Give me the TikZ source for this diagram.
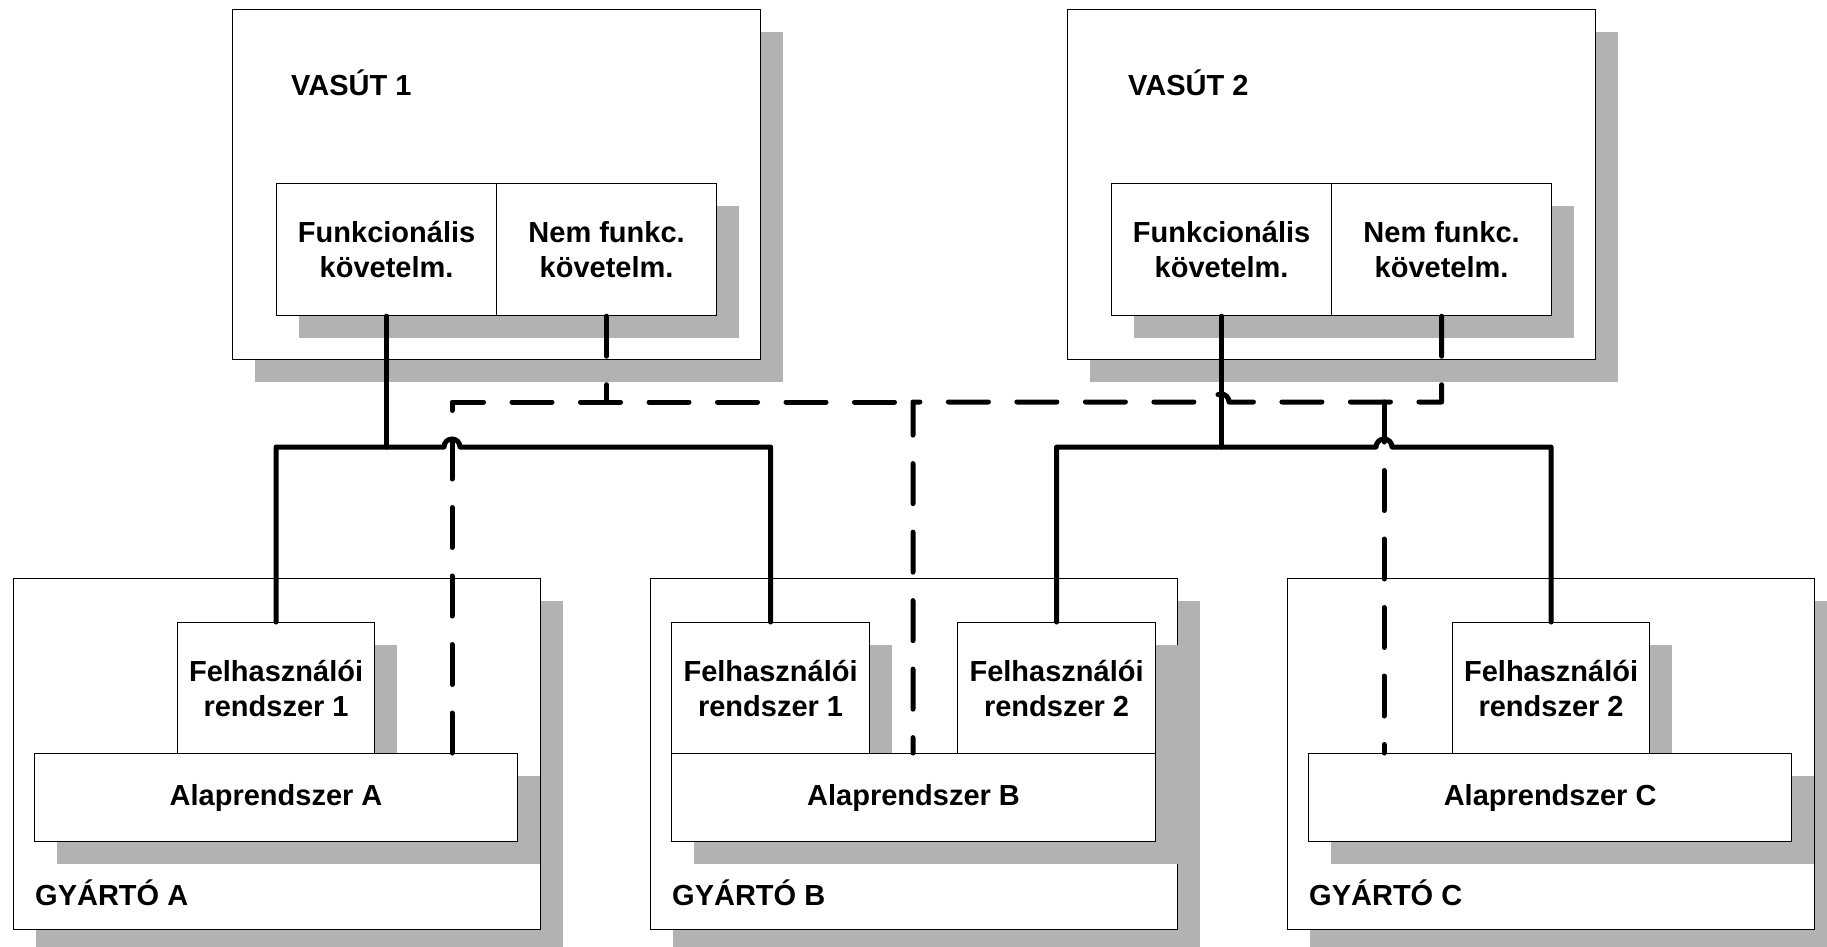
\documentclass[tikz,border=0pt]{standalone}
\usepackage{fontspec}
\setmainfont{Liberation Sans}
\usetikzlibrary{shadows}
\definecolor{shadowgray}{RGB}{178,178,178}
\begin{document}
\begin{tikzpicture}[x=1pt,y=-1pt,
  every node/.style={font=\fontsize{29}{35}\selectfont\bfseries},
  box/.style={draw=black, fill=white, line width=1.2pt, inner sep=0pt,
    anchor=north west, align=center,
    general shadow={fill=shadowgray, shadow xshift=22pt, shadow yshift=-22pt}},
  lbl/.style={inner sep=0pt, anchor=base west},
  conn/.style={line width=5pt, line cap=round, line join=round},
  dashline/.style={conn, dash pattern=on 40pt off 28.5pt}
]
\fill[white] (0,0) rectangle (1827,946);
\clip (0,0) rectangle (1827,946);

% railway operators
\node[box, minimum width=528pt, minimum height=350pt] (v1) at (232,9) {};
\node[lbl] (v1t) at (291,95) {VASÚT 1};
\node[box, minimum width=220pt, minimum height=132pt] (v1f) at (276,183) {Funkcionális\\követelm.};
\node[box, minimum width=220pt, minimum height=132pt] (v1n) at (496,183) {Nem funkc.\\követelm.};

\node[box, minimum width=528pt, minimum height=350pt] (v2) at (1067,9) {};
\node[lbl] (v2t) at (1128,95) {VASÚT 2};
\node[box, minimum width=220pt, minimum height=132pt] (v2f) at (1111,183) {Funkcionális\\követelm.};
\node[box, minimum width=220pt, minimum height=132pt] (v2n) at (1331,183) {Nem funkc.\\követelm.};

% manufacturers
\node[box, minimum width=527pt, minimum height=351pt] (ga) at (13,578) {};
\node[lbl] (gat) at (35,905) {GYÁRTÓ A};
\node[box, minimum width=197pt, minimum height=131pt] (fa1) at (177,622) {Felhasználói\\rendszer 1};
\node[box, minimum width=483pt, minimum height=88pt] (aa) at (34,753) {Alaprendszer A};

\node[box, minimum width=527pt, minimum height=351pt] (gb) at (650,578) {};
\node[lbl] (gbt) at (672,905) {GYÁRTÓ B};
\node[box, minimum width=198pt, minimum height=131pt] (fb1) at (671,622) {Felhasználói\\rendszer 1};
\node[box, minimum width=198pt, minimum height=131pt] (fb2) at (957,622) {Felhasználói\\rendszer 2};
\node[box, minimum width=484pt, minimum height=88pt] (ab) at (671,753) {Alaprendszer B};

\node[box, minimum width=527pt, minimum height=351pt] (gc) at (1287,578) {};
\node[lbl] (gct) at (1309,905) {GYÁRTÓ C};
\node[box, minimum width=197pt, minimum height=131pt] (fc2) at (1452,622) {Felhasználói\\rendszer 2};
\node[box, minimum width=483pt, minimum height=88pt] (ac) at (1308,753) {Alaprendszer C};

% junction points of the connector network
\coordinate (sA) at (452,447);
\coordinate (sC) at (1384,447);
\coordinate (da) at (452,402);
\coordinate (db) at (913,402);
\coordinate (dc) at (1384,402);
\coordinate (dh) at (1221,402);

% functional requirements (solid)
\draw[conn] (v1f.south) -- (v1f.south |- sA);
\draw[conn] (fa1.north) -- (fa1.north |- sA) -- ([xshift=-8pt]sA)
  arc[start angle=180, end angle=0, radius=8pt] -- (fb1.north |- sA) -- (fb1.north);
\draw[conn] (v2f.south) -- (v2f.south |- sC);
\draw[conn] (fb2.north) -- (fb2.north |- sC) -- ([xshift=-8pt]sC)
  arc[start angle=180, end angle=0, radius=8pt] -- (fc2.north |- sC) -- (fc2.north);

% non-functional requirements (dashed)
\draw[dashline] (aa.north -| da) -- (da) -- (db);
\draw[dashline] (v1n.south) -- (v1n.south |- da);
\draw[dashline] (v2n.south) -- (v2n.south |- db) -- ([xshift=8pt]dh)
  arc[start angle=0, end angle=180, radius=8pt] -- (db) -- (ab.north -| db);
\draw[dashline] (dc) -- (ac.north -| dc);
\end{tikzpicture}
\end{document}
